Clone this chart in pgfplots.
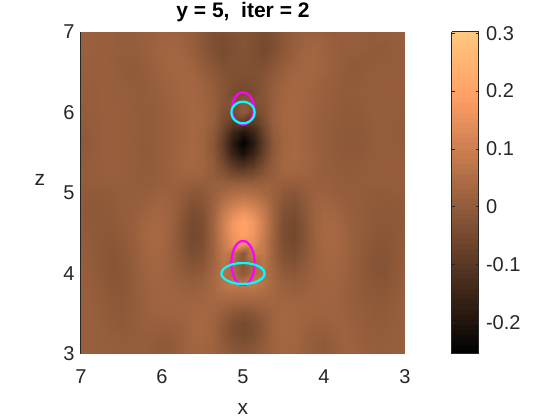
\documentclass[border=0pt]{standalone}
\usepackage{fontspec}
\setmainfont{Liberation Sans}
\usepackage{pgfplots}
\pgfplotsset{compat=1.18}
\definecolor{txt}{RGB}{38,38,38}
\definecolor{mgn}{RGB}{255,0,255}
\definecolor{cyn}{RGB}{0,255,255}

\begin{document}
\begin{tikzpicture}[x=1pt,y=1pt]
\path[use as bounding box] (0,0) rectangle (560,420);
\begin{axis}[
    at={(81pt,66pt)},
    anchor=south west,
    scale only axis,
    width=324pt,
    height=322pt,
    xmin=3, xmax=7,
    ymin=3, ymax=7,
    x dir=reverse,
    xtick={3,4,5,6,7},
    ytick={3,4,5,6,7},
    axis on top,
    axis lines*=left,
    axis line style={-},
    x axis line style={draw=none},
    y axis line style={draw=txt, line width=1pt},
    tick style={draw=none},
    tick label style={font=\fontsize{20}{20}\selectfont, text=txt},
    xticklabel style={yshift=-12pt},
    yticklabel style={xshift=-3pt},
    /pgf/number format/assume math mode=true,
    xlabel={x},
    ylabel={z},
    label style={font=\fontsize{21}{21}\selectfont, text=txt},
    xlabel style={at={(axis description cs:0.5,-0.171)}, anchor=center},
    ylabel style={at={(axis description cs:-0.127,0.54)}, anchor=center, rotate=-90},
    title={y = 5,\ \ iter = 2},
    title style={font=\fontsize{21}{21}\selectfont\bfseries, text=black, yshift=0pt, at={(axis description cs:0.5,1.043)}, anchor=center},
    colormap={copper}{rgb(0cm)=(0,0,0); rgb(8cm)=(1,.625,.398); rgb(10cm)=(1,.7812,.4975)},
    point meta min=-0.2545,
    point meta max=0.302,
    colorbar sampled,
    colorbar style={
        at={(parent axis.north east)},
        anchor=north west,
        xshift=38pt,
        width=27pt,
        samples=65,
        ytick={-0.2,-0.1,0,0.1,0.2,0.3},
        yticklabels={-0.2,-0.1,0,0.1,0.2,0.3},
        tick style={draw=txt, line width=0.5pt},
        major tick length=3pt,
        axis line style={draw=txt, line width=1pt},
        tick label style={font=\fontsize{20}{20}\selectfont, text=txt, xshift=4pt},
    },
]
% field values, row by row from z=7 down to z=3, x=7 to x=3 in each row
\addplot[surf, shader=interp, mesh/cols=33, mesh/ordering=x varies, point meta=explicit]
table[row sep=crcr, header=false,
      x expr={7-0.125*mod(\coordindex,33)},
      y expr={7-0.125*floor((\coordindex+0.5)/33)},
      meta index=0] {
.015\\.015\\.01\\.01\\.005\\.005\\.01\\.015\\.02\\.02\\.015\\.005\\-.01\\-.03\\-.035\\-.025\\-.02\\-.03\\-.04\\-.03\\-.01\\.005\\.015\\.015\\.01\\.005\\.01\\.01\\.005\\0\\.005\\.01\\.01\\
.015\\.015\\.012\\.01\\.005\\.005\\.012\\.018\\.025\\.028\\.02\\.008\\-.012\\-.035\\-.042\\-.03\\-.022\\-.032\\-.045\\-.035\\-.012\\.008\\.02\\.025\\.018\\.01\\.005\\.008\\.005\\.002\\0\\.005\\.01\\
.012\\.015\\.012\\.008\\.003\\.002\\.01\\.018\\.028\\.03\\.025\\.012\\-.008\\-.03\\-.045\\-.032\\-.025\\-.035\\-.048\\-.032\\-.008\\.012\\.025\\.03\\.02\\.012\\.005\\.003\\0\\-.002\\0\\.003\\.008\\
.01\\.012\\.012\\.008\\.002\\-.002\\.005\\.015\\.025\\.03\\.028\\.018\\0\\-.02\\-.035\\-.03\\-.025\\-.03\\-.035\\-.02\\0\\.018\\.028\\.03\\.022\\.012\\.003\\-.003\\-.002\\0\\.002\\.003\\.005\\
.008\\.01\\.012\\.01\\.003\\-.003\\.002\\.012\\.022\\.028\\.03\\.025\\.01\\-.01\\-.025\\-.03\\-.03\\-.03\\-.025\\-.008\\.012\\.025\\.03\\.028\\.02\\.01\\0\\-.003\\0\\.003\\.005\\.005\\.005\\
.006\\.008\\.01\\.01\\.005\\0\\0\\.008\\.018\\.025\\.03\\.03\\.018\\0\\-.02\\-.035\\-.04\\-.035\\-.018\\.002\\.02\\.03\\.03\\.025\\.015\\.008\\0\\-.002\\.002\\.005\\.006\\.005\\.005\\
.005\\.007\\.01\\.01\\.007\\.002\\0\\.005\\.015\\.022\\.03\\.032\\.022\\.005\\-.02\\-.045\\-.05\\-.045\\-.018\\.008\\.025\\.032\\.03\\.022\\.012\\.005\\0\\0\\.003\\.006\\.006\\.005\\.004\\
.004\\.006\\.01\\.01\\.008\\.003\\0\\.004\\.012\\.02\\.028\\.033\\.026\\.008\\-.02\\-.03\\-.005\\-.03\\-.02\\.012\\.028\\.033\\.028\\.02\\.01\\.004\\-.002\\-.002\\.002\\.006\\.006\\.004\\.002\\
.002\\.005\\.01\\.012\\.01\\.004\\0\\.002\\.01\\.018\\.026\\.034\\.03\\.01\\-.03\\-.05\\.002\\-.05\\-.03\\.015\\.03\\.034\\.027\\.018\\.008\\.002\\-.003\\-.004\\0\\.005\\.006\\.003\\0\\
0\\.004\\.01\\.012\\.01\\.005\\0\\.002\\.01\\.018\\.026\\.034\\.028\\.005\\-.045\\-.095\\-.105\\-.095\\-.045\\.01\\.03\\.034\\.026\\.016\\.006\\0\\-.004\\-.006\\-.002\\.004\\.006\\.002\\-.002\\
-.004\\.002\\.01\\.012\\.01\\.005\\0\\.002\\.01\\.018\\.026\\.034\\.024\\-.005\\-.07\\-.155\\-.2\\-.155\\-.07\\0\\.026\\.034\\.026\\.016\\.006\\-.002\\-.006\\-.008\\-.004\\.003\\.005\\.002\\-.002\\
-.008\\0\\.01\\.012\\.01\\.004\\-.002\\0\\.01\\.018\\.026\\.034\\.024\\-.012\\-.085\\-.185\\-.25\\-.185\\-.085\\-.008\\.024\\.034\\.026\\.016\\.006\\-.002\\-.006\\-.008\\-.005\\.002\\.004\\.002\\-.002\\
-.004\\.002\\.01\\.012\\.01\\.004\\-.002\\0\\.01\\.018\\.028\\.036\\.026\\-.008\\-.075\\-.16\\-.21\\-.16\\-.075\\-.005\\.028\\.036\\.028\\.018\\.008\\0\\-.004\\-.006\\-.003\\.003\\.005\\.004\\0\\
0\\.004\\.01\\.012\\.01\\.005\\0\\.002\\.01\\.02\\.03\\.034\\.028\\0\\-.05\\-.105\\-.135\\-.105\\-.05\\.002\\.03\\.036\\.028\\.018\\.008\\.002\\-.002\\-.003\\0\\.004\\.006\\.006\\.004\\
.002\\.004\\.008\\.01\\.008\\.004\\0\\.002\\.01\\.018\\.024\\.026\\.022\\.005\\-.02\\-.05\\-.06\\-.05\\-.02\\.006\\.024\\.028\\.024\\.016\\.008\\.002\\0\\0\\.002\\.005\\.006\\.006\\.005\\
.002\\.002\\.004\\.006\\.006\\.004\\.002\\.004\\.012\\.016\\.012\\.006\\.008\\.012\\.012\\.01\\.012\\.01\\.012\\.014\\.01\\.006\\.012\\.016\\.012\\.005\\.002\\.002\\.004\\.005\\.005\\.005\\.005\\
0\\-.002\\-.003\\0\\.003\\.004\\.006\\.012\\.018\\.015\\.002\\-.012\\-.008\\.015\\.035\\.05\\.058\\.05\\.035\\.015\\-.008\\-.014\\.002\\.016\\.018\\.01\\.005\\.002\\0\\-.002\\-.002\\0\\.002\\
-.003\\-.006\\-.006\\-.002\\.003\\.006\\.012\\.02\\.025\\.016\\-.005\\-.028\\-.02\\.02\\.065\\.095\\.11\\.095\\.065\\.02\\-.02\\-.03\\-.006\\.018\\.026\\.02\\.01\\.004\\0\\-.004\\-.006\\-.004\\-.002\\
-.004\\-.008\\-.008\\-.004\\.002\\.008\\.018\\.028\\.03\\.016\\-.012\\-.04\\-.03\\.022\\.09\\.14\\.165\\.14\\.09\\.022\\-.03\\-.042\\-.012\\.018\\.032\\.028\\.016\\.006\\0\\-.005\\-.008\\-.006\\-.004\\
-.002\\-.006\\-.01\\-.006\\0\\.01\\.024\\.034\\.034\\.016\\-.018\\-.048\\-.036\\.025\\.105\\.17\\.2\\.17\\.105\\.025\\-.036\\-.05\\-.018\\.018\\.036\\.034\\.02\\.008\\0\\-.006\\-.01\\-.008\\-.004\\
0\\-.004\\-.01\\-.01\\-.002\\.01\\.026\\.037\\.034\\.014\\-.022\\-.052\\-.04\\.022\\.1\\.165\\.195\\.165\\.1\\.022\\-.04\\-.054\\-.022\\.016\\.036\\.037\\.024\\.008\\-.002\\-.01\\-.014\\-.008\\-.002\\
.002\\-.002\\-.01\\-.014\\-.006\\.008\\.024\\.036\\.032\\.012\\-.02\\-.048\\-.036\\.02\\.09\\.15\\.17\\.15\\.09\\.02\\-.036\\-.05\\-.02\\.014\\.034\\.036\\.024\\.008\\-.004\\-.014\\-.018\\-.008\\0\\
.004\\0\\-.01\\-.018\\-.01\\.006\\.022\\.034\\.03\\.012\\-.014\\-.038\\-.028\\.02\\.08\\.07\\-.01\\.1\\.085\\.02\\-.028\\-.04\\-.014\\.014\\.032\\.034\\.024\\.008\\-.006\\-.018\\-.02\\-.006\\.002\\
.006\\.002\\-.008\\-.02\\-.014\\.002\\.018\\.03\\.028\\.014\\-.006\\-.024\\-.016\\.025\\.07\\.04\\-.015\\.04\\.07\\.025\\-.016\\-.026\\-.006\\.016\\.03\\.032\\.022\\.006\\-.008\\-.022\\-.024\\-.006\\.004\\
.008\\.004\\-.006\\-.018\\-.016\\0\\.016\\.026\\.026\\.016\\.004\\-.008\\-.002\\.03\\.065\\.045\\-.01\\.04\\.065\\.03\\-.002\\-.01\\.002\\.018\\.028\\.028\\.02\\.006\\-.008\\-.02\\-.022\\-.006\\.006\\
.01\\.006\\-.004\\-.014\\-.014\\0\\.014\\.024\\.026\\.02\\.014\\.008\\.014\\.035\\.065\\.085\\.08\\.085\\.065\\.035\\.014\\.006\\.01\\.02\\.026\\.026\\.018\\.006\\-.006\\-.014\\-.016\\-.004\\.008\\
.012\\.008\\0\\-.01\\-.012\\0\\.012\\.022\\.026\\.024\\.02\\.018\\.022\\.034\\.045\\.05\\.05\\.05\\.045\\.034\\.022\\.016\\.018\\.022\\.026\\.024\\.016\\.006\\-.004\\-.008\\-.008\\0\\.01\\
.012\\.01\\.002\\-.006\\-.01\\0\\.012\\.02\\.024\\.026\\.026\\.026\\.028\\.028\\.024\\.018\\.016\\.018\\.024\\.028\\.028\\.026\\.024\\.024\\.024\\.022\\.016\\.008\\0\\-.004\\-.004\\.002\\.01\\
.012\\.01\\.004\\-.004\\-.008\\0\\.01\\.018\\.02\\.02\\.024\\.03\\.032\\.024\\.005\\-.015\\-.025\\-.015\\.005\\.024\\.032\\.03\\.024\\.02\\.02\\.022\\.018\\.01\\.002\\-.002\\-.002\\.004\\.01\\
.012\\.01\\.006\\0\\-.005\\0\\.008\\.012\\.012\\.012\\.02\\.03\\.034\\.022\\-.008\\-.035\\-.048\\-.035\\-.008\\.022\\.034\\.03\\.02\\.014\\.014\\.02\\.02\\.012\\.004\\0\\0\\.005\\.01\\
.012\\.01\\.007\\.002\\0\\.002\\.006\\.006\\.002\\.004\\.016\\.03\\.034\\.022\\-.008\\-.035\\-.045\\-.035\\-.008\\.022\\.034\\.03\\.016\\.006\\.004\\.014\\.022\\.016\\.006\\.002\\.002\\.006\\.01\\
.012\\.01\\.008\\.004\\.002\\.004\\.006\\.002\\-.006\\-.002\\.014\\.028\\.03\\.02\\-.002\\-.022\\-.03\\-.022\\-.002\\.02\\.03\\.028\\.014\\0\\-.004\\.008\\.02\\.018\\.008\\.004\\.004\\.008\\.01\\
.012\\.012\\.01\\.006\\.005\\.005\\.006\\.002\\-.004\\0\\.014\\.024\\.026\\.018\\.004\\-.01\\-.015\\-.01\\.004\\.018\\.026\\.024\\.014\\.002\\0\\.008\\.018\\.018\\.01\\.006\\.006\\.008\\.01\\
};
% source and estimate outlines
\addplot[mgn, line width=2.2pt] coordinates {(5.136,6.05)(5.131,6.102)(5.118,6.15)(5.096,6.191)(5.068,6.223)(5.035,6.243)(5,6.25)(4.965,6.243)(4.932,6.223)(4.904,6.191)(4.882,6.15)(4.869,6.102)(4.864,6.05)(4.869,5.998)(4.882,5.95)(4.904,5.909)(4.932,5.877)(4.965,5.857)(5,5.85)(5.035,5.857)(5.068,5.877)(5.096,5.909)(5.118,5.95)(5.131,5.998)(5.136,6.05)};
\addplot[mgn, line width=2.2pt] coordinates {(5.144,4.13)(5.139,4.201)(5.125,4.268)(5.102,4.324)(5.072,4.368)(5.037,4.396)(5,4.405)(4.963,4.396)(4.928,4.368)(4.898,4.324)(4.875,4.268)(4.861,4.201)(4.856,4.13)(4.861,4.059)(4.875,3.992)(4.898,3.936)(4.928,3.892)(4.963,3.864)(5,3.855)(5.037,3.864)(5.072,3.892)(5.102,3.936)(5.125,3.992)(5.139,4.059)(5.144,4.13)};
\addplot[cyn, line width=2.2pt] coordinates {(5.144,6)(5.139,6.035)(5.125,6.067)(5.102,6.095)(5.072,6.116)(5.037,6.129)(5,6.134)(4.963,6.129)(4.928,6.116)(4.898,6.095)(4.875,6.067)(4.861,6.035)(4.856,6)(4.861,5.965)(4.875,5.933)(4.898,5.905)(4.928,5.884)(4.963,5.871)(5,5.866)(5.037,5.871)(5.072,5.884)(5.102,5.905)(5.125,5.933)(5.139,5.965)(5.144,6)};
\addplot[cyn, line width=2.2pt] coordinates {(5.267,4)(5.258,4.034)(5.231,4.065)(5.189,4.092)(5.134,4.113)(5.069,4.126)(5,4.13)(4.931,4.126)(4.866,4.113)(4.811,4.092)(4.769,4.065)(4.742,4.034)(4.733,4)(4.742,3.966)(4.769,3.935)(4.811,3.908)(4.866,3.887)(4.931,3.874)(5,3.87)(5.069,3.874)(5.134,3.887)(5.189,3.908)(5.231,3.935)(5.258,3.966)(5.267,4)};
\end{axis}
\end{tikzpicture}
\end{document}
